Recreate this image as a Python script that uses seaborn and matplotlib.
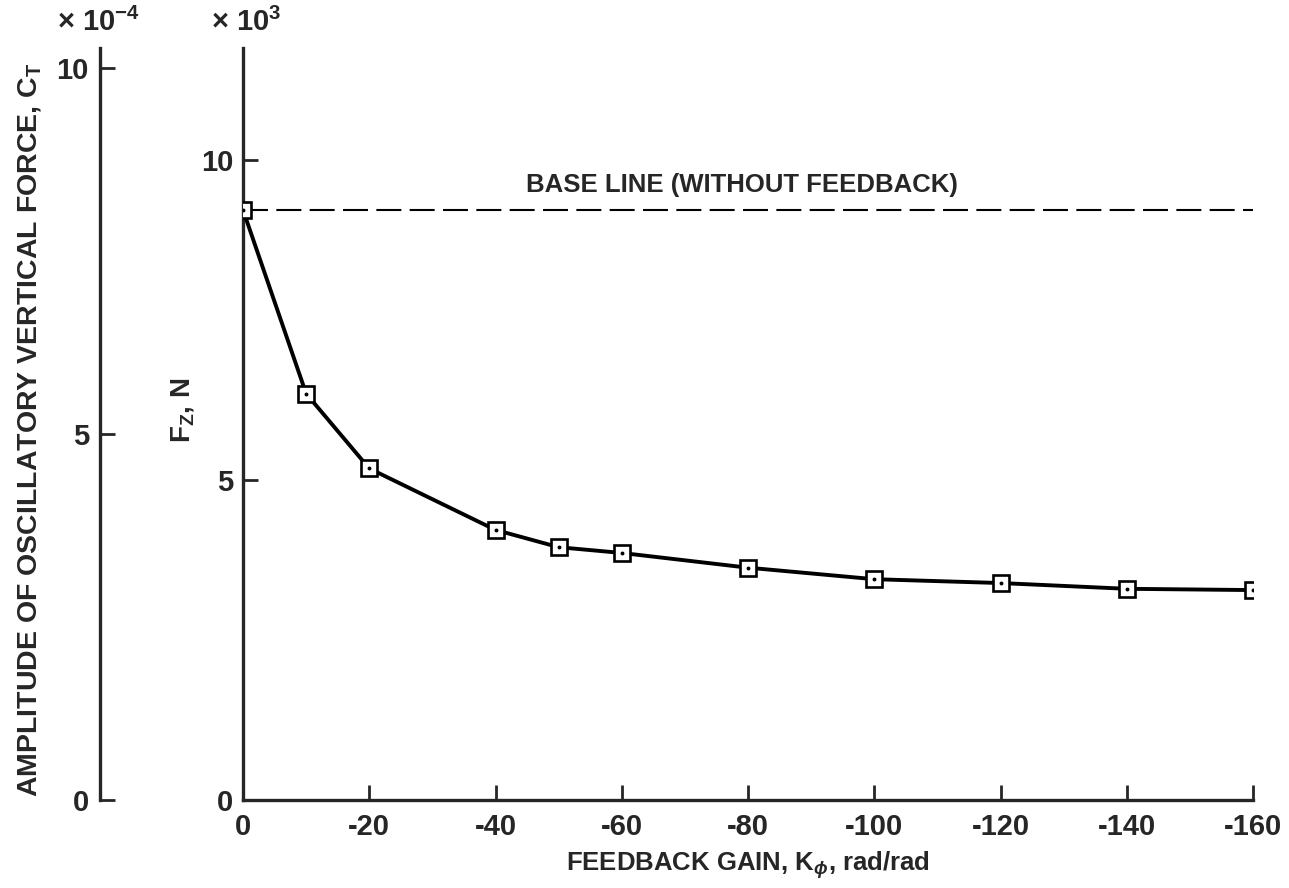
import matplotlib
matplotlib.use("Agg")
import matplotlib.pyplot as plt
import seaborn as sns
import pandas as pd

# ---- data ----
gain = [0, -10, -20, -40, -50, -60, -80, -100, -120, -140, -160]
fz_thousands = [9.22, 6.35, 5.18, 4.22, 3.95, 3.86, 3.63, 3.45, 3.39, 3.30, 3.28]
baseline_value = 9.22
baseline_label = "BASE LINE (WITHOUT FEEDBACK)"
x_ticks = [0, -20, -40, -60, -80, -100, -120, -140, -160]
x_tick_labels = ["0", "-20", "-40", "-60", "-80", "-100", "-120", "-140", "-160"]
fz_ticks = [0, 5, 10]
fz_tick_labels = ["0", "5", "10"]
ct_ticks = [0, 5, 10]
ct_tick_labels = ["0", "5", "10"]

sns.set_style("ticks")
plt.rcParams["font.family"] = ["Liberation Sans", "DejaVu Sans"]
plt.rcParams["font.weight"] = "bold"
plt.rcParams["axes.unicode_minus"] = False
plt.rcParams["mathtext.fontset"] = "custom"
plt.rcParams["mathtext.rm"] = "Liberation Sans:bold"
plt.rcParams["mathtext.it"] = "Liberation Sans:italic:bold"
plt.rcParams["mathtext.bf"] = "Liberation Sans:bold"

df = pd.DataFrame({"gain": gain, "fz": fz_thousands})

fig = plt.figure(figsize=(12.89, 8.88), dpi=100)
W, H = 1289, 888
bottom = 1 - 800 / H
top = 1 - 48 / H
ax = fig.add_axes([243 / W, bottom, (1253 - 243) / W, top - bottom])
ax.set_facecolor("white")

# baseline
ax.hlines(baseline_value, 0, -160, colors="black", linewidth=1.5,
          linestyles=(0, (12, 4)), zorder=2)
ax.text(-79, baseline_value + 0.2, baseline_label, ha="center", va="bottom",
        fontsize=18.5, fontweight="bold")

# curve with square markers
sns.lineplot(data=df, x="gain", y="fz", ax=ax, color="black", linewidth=2.8,
             marker="s", markersize=12, markerfacecolor="white",
             markeredgecolor="black", markeredgewidth=1.9, zorder=3)
ax.plot(df["gain"], df["fz"], linestyle="none", marker="o", markersize=1.8,
        color="black", zorder=4)

ax.set_xlim(0, -160)
ax.set_ylim(0, 11.75)
ax.set_xticks(x_ticks)
ax.set_xticklabels(x_tick_labels)
ax.set_yticks(fz_ticks)
ax.set_yticklabels(fz_tick_labels)
for s in ["top", "right"]:
    ax.spines[s].set_visible(False)
for s in ["left", "bottom"]:
    ax.spines[s].set_linewidth(2.4)
ax.tick_params(direction="in", length=11, width=2.0, labelsize=21)
ax.tick_params(axis="x", pad=9)
ax.tick_params(axis="y", pad=7)
ax.set_xlabel(r"FEEDBACK GAIN, K$_{\phi}$, rad/rad", fontsize=18.5, fontweight="bold", labelpad=6)
ax.set_ylabel("")
for lab in ax.get_xticklabels() + ax.get_yticklabels():
    lab.set_fontweight("bold")

fig.text(182 / W, 1 - 410 / H, r"F$_\mathrm{Z}$, N", rotation=90, ha="center", va="center",
         fontsize=20, fontweight="bold")
fig.text(246 / W, 1 - 22 / H, r"× 10$^\mathrm{3}$", ha="center", va="center",
         fontsize=21, fontweight="bold")

# left secondary axis (C_T)
ax2 = fig.add_axes([100 / W, bottom, 0.0005, top - bottom])
ax2.set_ylim(0, 10.27)
ax2.set_xticks([])
ax2.set_yticks(ct_ticks)
ax2.set_yticklabels(ct_tick_labels)
for s in ["top", "right", "bottom"]:
    ax2.spines[s].set_visible(False)
ax2.spines["left"].set_linewidth(2.4)
ax2.patch.set_alpha(0)
ax2.tick_params(axis="y", direction="in", length=11, width=2.0, labelsize=21, pad=8)
for lab in ax2.get_yticklabels():
    lab.set_fontweight("bold")
fig.text(98 / W, 1 - 22 / H, r"× 10$^\mathrm{-4}$", ha="center", va="center",
         fontsize=21, fontweight="bold")
fig.text(30 / W, 1 - 430 / H, r"AMPLITUDE OF OSCILLATORY VERTICAL FORCE, C$_\mathrm{T}$",
         rotation=90, ha="center", va="center", fontsize=20.5, fontweight="bold")

fig.savefig("out.png", dpi=100)
